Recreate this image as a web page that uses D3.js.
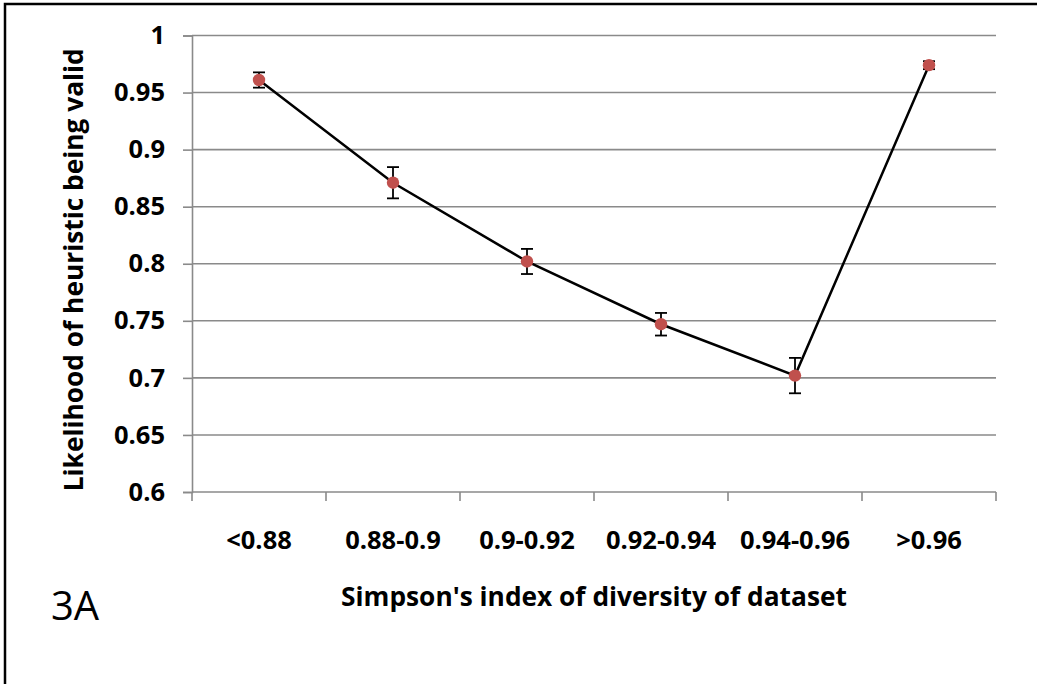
<!DOCTYPE html>
<html>
<head>
<meta charset="utf-8">
<script src="https://cdn.jsdelivr.net/npm/d3@7"></script>
<style>
  html, body { margin: 0; padding: 0; background: #fff; }
  svg { display: block; }
  text { font-family: "Open Sans", "Liberation Sans", sans-serif; fill: #000; }
</style>
</head>
<body>
<svg id="chart" width="1037" height="684"></svg>
<script>
// Diversity bins and the mean likelihood for each, with error half-widths
const categories = ["<0.88", "0.88-0.9", "0.9-0.92", "0.92-0.94", "0.94-0.96", ">0.96"];
const likelihood = [0.961, 0.871, 0.802, 0.747, 0.702, 0.974];
const errorHalf = [0.0067, 0.0137, 0.011, 0.0099, 0.0155, 0.0035];
const yTickValues = [0.6, 0.65, 0.7, 0.75, 0.8, 0.85, 0.9, 0.95, 1];
const yTickLabels = ["0.6", "0.65", "0.7", "0.75", "0.8", "0.85", "0.9", "0.95", "1"];

const svg = d3.select("#chart");
const W = 1037, H = 684;
const plot = { left: 192, right: 996, top: 35.5, bottom: 492 };
const labelSize = 25.5;
const titleSize = 26.3;

// Frame along the top and left edges
svg.append("path")
  .attr("d", `M5,${H} L5,4 L${W},4`)
  .attr("fill", "none").attr("stroke", "#000").attr("stroke-width", 2.5);

const x = d3.scaleBand().domain(categories).range([plot.left, plot.right]).padding(0);
const y = d3.scaleLinear().domain([0.6, 1]).range([plot.bottom, plot.top]);

const gridColor = "#8a8a8a";

// Horizontal gridlines
svg.append("g").selectAll("line")
  .data(yTickValues.filter(v => v > 0.6))
  .join("line")
  .attr("x1", plot.left).attr("x2", plot.right)
  .attr("y1", d => y(d)).attr("y2", d => y(d))
  .attr("stroke", gridColor).attr("stroke-width", 1.6);

// Left axis
const yAxis = d3.axisLeft(y)
  .tickValues(yTickValues)
  .tickFormat((d, i) => yTickLabels[i])
  .tickSize(9).tickPadding(18);
const gy = svg.append("g").attr("transform", `translate(${plot.left},0)`).call(yAxis);
gy.select(".domain").attr("stroke", gridColor).attr("stroke-width", 1.6);
gy.selectAll(".tick line").attr("stroke", gridColor).attr("stroke-width", 1.6);
gy.selectAll(".tick text")
  .attr("font-size", labelSize).attr("font-weight", "bold")
  .attr("font-family", "'Open Sans', sans-serif").attr("fill", "#000");

// Bottom axis with ticks on bin boundaries
svg.append("line")
  .attr("x1", plot.left).attr("x2", plot.right)
  .attr("y1", plot.bottom).attr("y2", plot.bottom)
  .attr("stroke", gridColor).attr("stroke-width", 1.6);
const boundaries = categories.map(c => x(c)).concat([x(categories[categories.length - 1]) + x.bandwidth()]);
svg.append("g").selectAll("line")
  .data(boundaries)
  .join("line")
  .attr("x1", d => d).attr("x2", d => d)
  .attr("y1", plot.bottom).attr("y2", plot.bottom + 9)
  .attr("stroke", gridColor).attr("stroke-width", 1.6);
svg.append("g").selectAll("text")
  .data(categories)
  .join("text")
  .attr("x", d => x(d) + x.bandwidth() / 2)
  .attr("y", 549)
  .attr("text-anchor", "middle")
  .attr("font-size", labelSize).attr("font-weight", "bold")
  .text(d => d);

// Axis titles
svg.append("text")
  .attr("x", (plot.left + plot.right) / 2).attr("y", 606)
  .attr("text-anchor", "middle")
  .attr("font-size", titleSize).attr("font-weight", "bold")
  .text("Simpson's index of diversity of dataset");
svg.append("text")
  .attr("transform", `translate(83,${(plot.top + plot.bottom) / 2 + 6}) rotate(-90)`)
  .attr("text-anchor", "middle")
  .attr("font-size", titleSize).attr("font-weight", "bold")
  .text("Likelihood of heuristic being valid");

// Panel label
svg.append("text")
  .attr("x", 51).attr("y", 620)
  .attr("font-size", 40)
  .text("3A");

const cx = d => x(categories[d]) + x.bandwidth() / 2;
const idx = d3.range(categories.length);

// Connecting line
svg.append("path")
  .datum(idx)
  .attr("d", d3.line().x(i => cx(i)).y(i => y(likelihood[i])))
  .attr("fill", "none").attr("stroke", "#000").attr("stroke-width", 2.5);

// Error bars
const eb = svg.append("g").attr("stroke", "#000").attr("stroke-width", 1.8);
eb.selectAll("line.v").data(idx).join("line").attr("class", "v")
  .attr("x1", i => cx(i)).attr("x2", i => cx(i))
  .attr("y1", i => y(likelihood[i] + errorHalf[i]))
  .attr("y2", i => y(likelihood[i] - errorHalf[i]));
eb.selectAll("line.t").data(idx).join("line").attr("class", "t")
  .attr("x1", i => cx(i) - 6).attr("x2", i => cx(i) + 6)
  .attr("y1", i => y(likelihood[i] + errorHalf[i]))
  .attr("y2", i => y(likelihood[i] + errorHalf[i]));
eb.selectAll("line.b").data(idx).join("line").attr("class", "b")
  .attr("x1", i => cx(i) - 6).attr("x2", i => cx(i) + 6)
  .attr("y1", i => y(likelihood[i] - errorHalf[i]))
  .attr("y2", i => y(likelihood[i] - errorHalf[i]));

// Markers
svg.append("g").selectAll("circle")
  .data(idx)
  .join("circle")
  .attr("cx", i => cx(i)).attr("cy", i => y(likelihood[i]))
  .attr("r", 6.2)
  .attr("fill", "#C0504D");
</script>
</body>
</html>
